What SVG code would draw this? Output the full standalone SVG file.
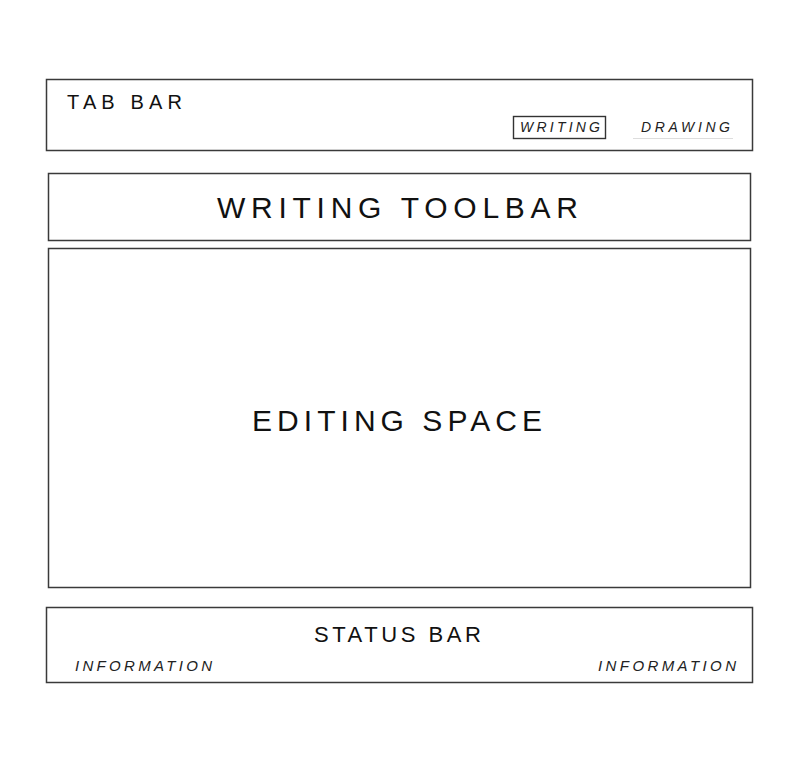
<svg xmlns="http://www.w3.org/2000/svg" width="800" height="764" viewBox="0 0 800 764">
<style>
.box{fill:#fff;stroke:#3a3a3a;stroke-width:1.5}
.t{font-family:"Liberation Sans","DejaVu Sans",sans-serif;fill:#111}
.i{font-family:"Liberation Sans","DejaVu Sans",sans-serif;font-style:italic;fill:#222}
</style>
<rect x="0" y="0" width="800" height="764" fill="#fff"/>
<g id="tab-bar">
<rect class="box" x="46.5" y="79.5" width="706" height="71"/>
<text class="t" x="67" y="108.5" font-size="20" textLength="115" lengthAdjust="spacing">TAB BAR</text>
<g id="tab-writing">
<rect x="513.5" y="116.5" width="92" height="22" fill="#fff" stroke="#333" stroke-width="1.4"/>
<text class="i" x="520" y="131.5" font-size="14" textLength="80" lengthAdjust="spacing">WRITING</text>
</g>
<g id="tab-drawing">
<line x1="633" y1="138.5" x2="733" y2="138.5" stroke="#ddd" stroke-width="1"/>
<text class="i" x="641" y="131.5" font-size="14" textLength="89" lengthAdjust="spacing">DRAWING</text>
</g>
</g>
<g id="writing-toolbar">
<rect class="box" x="48.5" y="173.5" width="702" height="67"/>
<text class="t" x="217" y="218" font-size="30" textLength="361" lengthAdjust="spacing">WRITING TOOLBAR</text>
</g>
<g id="editing-space">
<rect class="box" x="48.5" y="248.5" width="702" height="339"/>
<text class="t" x="252" y="431" font-size="30" textLength="290" lengthAdjust="spacing">EDITING SPACE</text>
</g>
<g id="status-bar">
<rect class="box" x="46.5" y="607.5" width="706" height="75"/>
<text class="t" x="314" y="642" font-size="22" textLength="167" lengthAdjust="spacing">STATUS BAR</text>
<text class="i" x="75" y="670.5" font-size="15" textLength="137" lengthAdjust="spacing">INFORMATION</text>
<text class="i" x="598" y="670.5" font-size="15" textLength="138" lengthAdjust="spacing">INFORMATION</text>
</g>
<g id="connectors"/>
</svg>
